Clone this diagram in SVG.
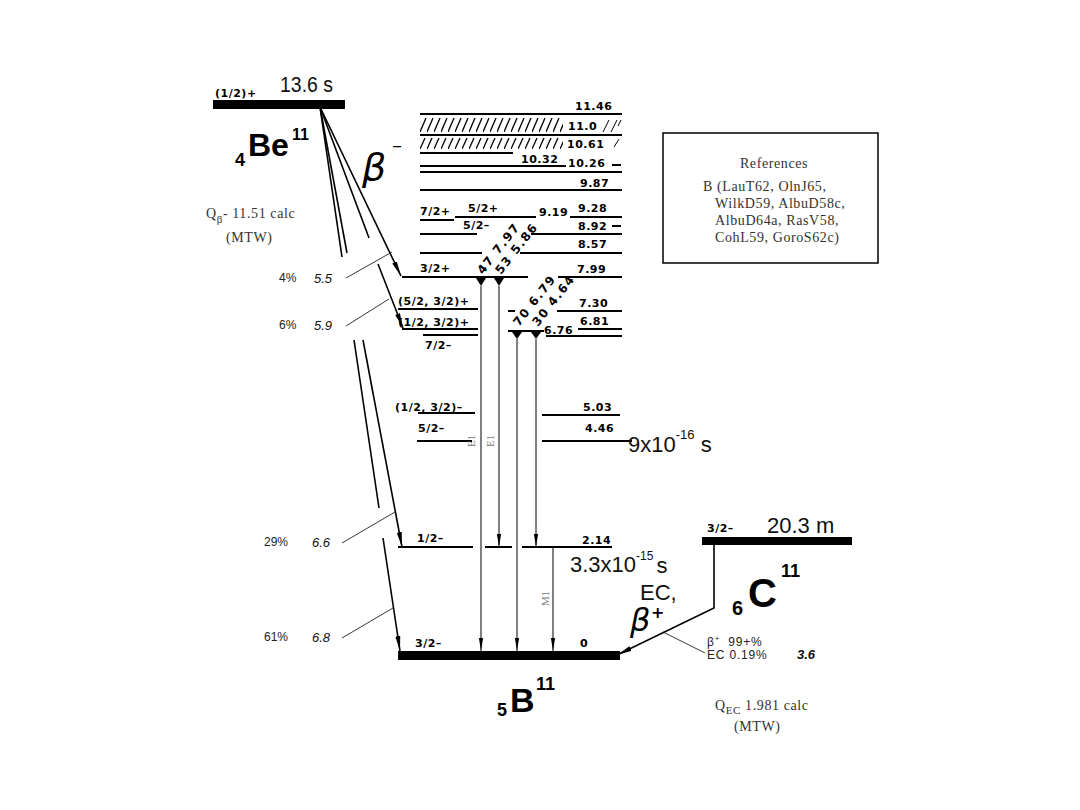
<svg xmlns="http://www.w3.org/2000/svg" width="1080" height="810" viewBox="0 0 1080 810">
<defs>
<style>
.lv{font-family:"DejaVu Sans",sans-serif;font-weight:bold;font-size:11px;letter-spacing:0.5px;fill:#000}
.rot{font-family:"DejaVu Sans",sans-serif;font-weight:bold;font-size:12px;letter-spacing:1.5px;fill:#000}
.big{font-family:"Liberation Sans",Arial,sans-serif;font-size:22px;fill:#111}
.nuc{font-family:"Liberation Sans",Arial,sans-serif;font-weight:bold;fill:#000}
.ser{font-family:"Liberation Serif","Times New Roman",serif;font-size:14px;letter-spacing:0.6px;fill:#333}
.pct{font-family:"Liberation Sans",Arial,sans-serif;font-size:12px;fill:#222}
.eng{font-family:"Liberation Sans",Arial,sans-serif;font-size:13px;font-style:italic;fill:#111}
.mult{font-family:"Liberation Serif","Times New Roman",serif;font-size:11px;fill:#777}
.lvl{stroke:#000;stroke-width:2;fill:none}
.thin{stroke:#000;stroke-width:1;fill:none}
.beta{stroke:#000;stroke-width:1.6;fill:none}
.lead{stroke:#222;stroke-width:0.9;fill:none}
.bar{fill:#000}
</style>
<marker id="ah" markerUnits="userSpaceOnUse" markerWidth="16" markerHeight="6" refX="15" refY="3" orient="auto"><path d="M0,0.5 L15,3 L0,5.5 z" fill="#000"/></marker>
<marker id="ahs" markerUnits="userSpaceOnUse" markerWidth="14" markerHeight="6" refX="13" refY="3" orient="auto"><path d="M0,0.9 L13,3 L0,5.1 z" fill="#000"/></marker>
<pattern id="h1" patternUnits="userSpaceOnUse" x="0" y="118" width="7" height="14"><path d="M0,14 L6,0" stroke="#000" stroke-width="1.3"/></pattern>
<pattern id="h2" patternUnits="userSpaceOnUse" x="0" y="138" width="7" height="11"><path d="M0,11 L5,0" stroke="#000" stroke-width="1.3"/></pattern>
</defs>
<rect width="1080" height="810" fill="#fff"/>

<!-- Parent Be11 -->
<g id="be11">
<rect class="bar" x="213" y="100" width="132" height="9"/>
<text class="lv" x="215" y="97">(1/2)+</text>
<text class="big" x="280" y="92" textLength="53" lengthAdjust="spacingAndGlyphs">13.6 s</text>
<text class="nuc" x="235" y="166" font-size="18">4</text>
<text class="nuc" x="248" y="156" font-size="32">Be</text>
<text class="nuc" x="292" y="140" font-size="16">11</text>
<text x="362" y="180" font-family="DejaVu Sans, sans-serif" font-style="italic" font-size="38">β</text>
<text x="392" y="152" font-family="DejaVu Sans, sans-serif" font-size="20">–</text>
<text class="ser" x="206" y="218">Q<tspan font-size="11" dy="5">β</tspan><tspan dy="-5">- 11.51 calc</tspan></text>
<text class="ser" x="226" y="242" letter-spacing="1.5">(MTW)</text>
</g>

<!-- References box -->
<g id="references">
<rect x="663" y="133" width="215" height="130" fill="none" stroke="#000" stroke-width="1.5"/>
<text class="ser" x="774" y="168" text-anchor="middle" letter-spacing="1">References</text>
<text class="ser" x="703" y="191">B  (LauT62, OlnJ65,</text>
<text class="ser" x="715" y="208">WilkD59, AlbuD58c,</text>
<text class="ser" x="715" y="225">AlbuD64a, RasV58,</text>
<text class="ser" x="715" y="242">CohL59, GoroS62c)</text>
</g>

<!-- High B11 levels -->
<g id="lvl-11.46"><line class="lvl" x1="420" y1="114" x2="622" y2="114"/><text class="lv" x="575" y="110">11.46</text></g>
<g id="lvl-11.0">
<rect x="420" y="118" width="143" height="14" fill="url(#h1)"/>
<text class="lv" x="568" y="130">11.0</text>
<path class="thin" stroke-width="1.3" d="M603,132 L609,120 M611,132 L617,120 M618,126 L621,120"/>
<line class="lvl" x1="420" y1="135" x2="622" y2="135" stroke-width="2.5"/>
</g>
<g id="lvl-10.61">
<rect x="420" y="138" width="143" height="11" fill="url(#h2)"/>
<text class="lv" x="567" y="148">10.61</text>
<path class="thin" stroke-width="1.3" d="M614,147 L619,139"/>
</g>
<g id="lvl-10.32"><line class="lvl" x1="420" y1="153" x2="513" y2="153"/><text class="lv" x="521" y="163">10.32</text><line class="lvl" x1="420" y1="166" x2="566" y2="166"/></g>
<g id="lvl-10.26"><text class="lv" x="568" y="167">10.26</text><line class="lvl" x1="612" y1="165" x2="621" y2="165"/><line class="lvl" x1="420" y1="172" x2="622" y2="172"/></g>
<g id="lvl-9.87"><text class="lv" x="580" y="187">9.87</text><line class="lvl" x1="420" y1="190" x2="622" y2="190"/></g>
<g id="lvl-9.28">
<text class="lv" x="420" y="215">7/2+</text><line class="lvl" x1="420" y1="220" x2="454" y2="220"/>
<text class="lv" x="468" y="212">5/2+</text><line class="lvl" x1="455" y1="217" x2="536" y2="217"/>
<text class="lv" x="539" y="216">9.19</text>
<text class="lv" x="578" y="212">9.28</text><line class="lvl" x1="570" y1="217" x2="622" y2="217"/>
</g>
<g id="lvl-8.92">
<text class="lv" x="463" y="229">5/2–</text>
<text class="lv" x="578" y="230">8.92</text><line class="lvl" x1="612" y1="226" x2="621" y2="226"/>
<line class="lvl" x1="420" y1="234" x2="477" y2="234"/><line class="lvl" x1="531" y1="234" x2="622" y2="234"/>
</g>
<g id="lvl-8.57"><text class="lv" x="578" y="248">8.57</text><line class="lvl" x1="420" y1="253" x2="482" y2="253"/><line class="lvl" x1="520" y1="253" x2="622" y2="253"/></g>
<g id="lvl-7.99">
<text class="lv" x="420" y="272">3/2+</text>
<line class="lvl" x1="402" y1="277" x2="528" y2="277"/>
<line class="lvl" x1="558" y1="277" x2="622" y2="277"/>
<text class="lv" x="577" y="273">7.99</text>
<polygon points="476,278 486,278 481,286"/><polygon points="494,278 504,278 499,286"/>
</g>
<g id="lvl-7.30">
<text class="lv" x="398" y="305">(5/2, 3/2)+</text><line class="lvl" x1="398" y1="309" x2="478" y2="309"/>
<text class="lv" x="579" y="307">7.30</text><line class="lvl" x1="557" y1="311" x2="622" y2="311"/>
<line class="lvl" x1="508" y1="311" x2="515" y2="311"/>
</g>
<g id="lvl-6.81">
<text class="lv" x="398" y="326">(1/2, 3/2)+</text><line class="lvl" x1="402" y1="329" x2="478" y2="329"/>
<text class="lv" x="580" y="325">6.81</text><line class="lvl" x1="578" y1="329" x2="622" y2="329"/>
</g>
<g id="lvl-6.76">
<line class="lvl" x1="508" y1="331" x2="544" y2="331"/>
<polygon points="512,332 522,332 517,339"/><polygon points="531,332 541,332 536,339"/>
<text class="lv" x="544" y="334">6.76</text>
<line class="lvl" x1="546" y1="336" x2="622" y2="336"/>
<line class="lvl" x1="423" y1="335" x2="478" y2="335"/>
<text class="lv" x="425" y="349">7/2–</text>
</g>
<g id="lvl-5.03">
<text class="lv" x="395" y="411">(1/2, 3/2)–</text><line class="lvl" x1="418" y1="413" x2="475" y2="413"/>
<text class="lv" x="583" y="411">5.03</text><line class="lvl" x1="542" y1="415" x2="620" y2="415"/>
</g>
<g id="lvl-4.46">
<text class="lv" x="418" y="432">5/2–</text><line class="lvl" x1="417" y1="441" x2="472" y2="441"/>
<text class="lv" x="585" y="432">4.46</text><line class="lvl" x1="542" y1="441" x2="632" y2="441"/>
<text class="big" x="628" y="452">9x10<tspan font-size="13" dy="-13">-16</tspan><tspan dy="13"> s</tspan></text>
</g>
<g id="lvl-2.14">
<text class="lv" x="417" y="542">1/2–</text>
<line class="lvl" x1="398" y1="547" x2="473" y2="547"/>
<line class="lvl" x1="485" y1="547" x2="512" y2="547"/>
<line class="lvl" x1="522" y1="547" x2="612" y2="547"/>
<text class="lv" x="582" y="544">2.14</text>
<text class="big" x="570" y="572" font-size="21">3.3x10<tspan font-size="12" dy="-12">-15</tspan><tspan dx="3" dy="13">s</tspan></text>
</g>
<g id="b11-ground">
<rect class="bar" x="398" y="651" width="222" height="9"/>
<text class="lv" x="415" y="647">3/2–</text>
<text class="lv" x="580" y="647">0</text>
<text class="nuc" x="497" y="716" font-size="18">5</text>
<text class="nuc" x="510" y="712" font-size="34">B</text>
<text class="nuc" x="536" y="690" font-size="18">11</text>
</g>

<!-- C11 parent -->
<g id="c11">
<rect class="bar" x="702" y="537" width="150" height="8"/>
<text class="lv" x="707" y="532">3/2–</text>
<text class="big" x="767" y="533">20.3 m</text>
<text class="nuc" x="732" y="615" font-size="20">6</text>
<text class="nuc" x="748" y="607" font-size="40">C</text>
<text class="nuc" x="781" y="577" font-size="18">11</text>
<text class="big" x="640" y="600" font-size="21">EC,</text>
<text x="630" y="631" font-family="DejaVu Sans, sans-serif" font-style="italic" font-size="32">β</text>
<text x="651" y="618" font-family="DejaVu Sans, sans-serif" font-weight="bold" font-size="16">+</text>
<text class="pct" x="707" y="646" font-size="13" letter-spacing="0.8" fill="#444">β<tspan font-size="8" dy="-5">+</tspan><tspan dy="5" dx="8">99+%</tspan></text>
<text class="pct" x="707" y="659" font-size="13" letter-spacing="0.8" fill="#444">EC 0.19%</text>
<text class="eng" x="797" y="659" font-weight="bold" font-size="12">3.6</text>
<text class="ser" x="715" y="710">Q<tspan font-size="11" dy="4">EC</tspan><tspan dy="-4"> 1.981 calc</tspan></text>
<text class="ser" x="734" y="731" letter-spacing="1.5">(MTW)</text>
</g>

<!-- Branching labels -->
<g id="branches">
<text class="pct" x="279" y="282">4%</text><text class="eng" x="314" y="283">5.5</text>
<text class="pct" x="279" y="329">6%</text><text class="eng" x="314" y="330">5.9</text>
<text class="pct" x="264" y="546">29%</text><text class="eng" x="312" y="547">6.6</text>
<text class="pct" x="264" y="641">61%</text><text class="eng" x="312" y="642">6.8</text>
</g>

<!-- Connectors -->
<g id="connectors">
<!-- beta minus -->
<line class="beta" x1="320" y1="107" x2="401" y2="276" marker-end="url(#ah)"/>
<line class="beta" x1="320" y1="107" x2="369" y2="238"/>
<line class="beta" x1="378" y1="264" x2="403" y2="328" marker-end="url(#ah)"/>
<line class="beta" x1="320" y1="107" x2="347" y2="253"/>
<line class="beta" x1="363" y1="340" x2="402" y2="547" marker-end="url(#ah)"/>
<line class="beta" x1="320" y1="107" x2="342" y2="257"/>
<line class="beta" x1="354" y1="340" x2="379" y2="508"/>
<line class="beta" x1="383" y1="538" x2="400" y2="651" marker-end="url(#ah)"/>
<!-- leaders -->
<line class="lead" x1="346" y1="278" x2="392" y2="252"/>
<line class="lead" x1="346" y1="326" x2="389" y2="299"/>
<line class="lead" x1="342" y1="543" x2="395" y2="512"/>
<line class="lead" x1="342" y1="638" x2="393" y2="608"/>
<line class="lead" x1="705" y1="653" x2="663" y2="632"/>
<!-- gammas -->
<line class="thin" x1="481" y1="286" x2="481" y2="651" marker-end="url(#ahs)"/>
<line class="thin" x1="499" y1="286" x2="499" y2="547" marker-end="url(#ahs)"/>
<line class="thin" x1="517" y1="339" x2="517" y2="651" marker-end="url(#ahs)"/>
<line class="thin" x1="536" y1="339" x2="536" y2="547" marker-end="url(#ahs)"/>
<line class="thin" x1="553" y1="548" x2="553" y2="651" marker-end="url(#ahs)"/>
<text class="rot" transform="translate(483,275) rotate(-52)">47 7.97</text>
<text class="rot" transform="translate(501,275) rotate(-52)">53 5.86</text>
<text class="rot" transform="translate(519,327) rotate(-52)">70 6.79</text>
<text class="rot" transform="translate(538,327) rotate(-52)">30 4.64</text>
<text class="mult" transform="translate(475,447) rotate(-90)">E1</text>
<text class="mult" transform="translate(494,447) rotate(-90)">E1</text>
<text class="mult" transform="translate(549,606) rotate(-90)">M1</text>
<!-- beta plus / EC -->
<path d="M714,545 L714,608 L617,655" fill="none" stroke="#000" stroke-width="1.6" marker-end="url(#ah)"/>
</g>
</svg>
